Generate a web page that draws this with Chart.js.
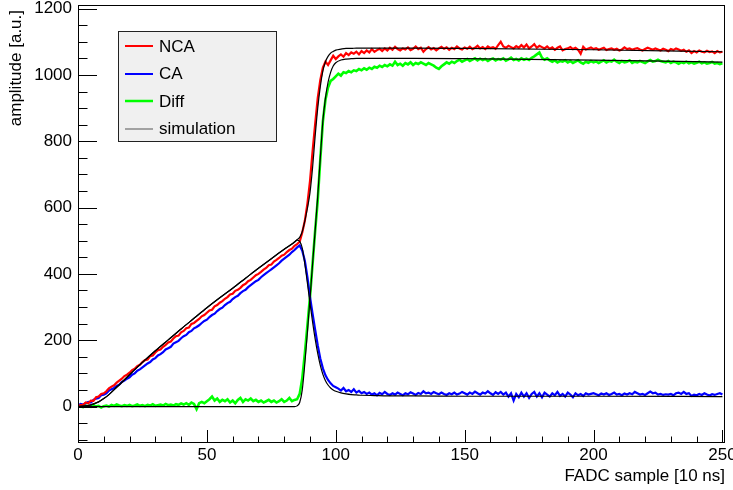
<!DOCTYPE html>
<html>
<head>
<meta charset="utf-8">
<script src="https://cdn.jsdelivr.net/npm/chart.js@4.4.1/dist/chart.umd.min.js"></script>
<style>
  html, body { margin: 0; padding: 0; background: #fff; }
  canvas { display: block; }
</style>
</head>
<body>
<canvas id="pulseChart" width="733" height="490"></canvas>
<script>
// Pulse shapes, one value per FADC sample (0..250)
const ncaValues = [
  2, 4, 5, 12, 10, 18, 17, 28, 30, 38, 40, 46, 55, 60, 64, 72, 78, 84, 92, 96,
  102, 110, 114, 122, 126, 134, 140, 142, 152, 154, 163, 170, 172, 180, 186, 193, 196, 205, 212, 214,
  224, 228, 236, 238, 249, 252, 258, 264, 272, 276, 283, 290, 292, 302, 306, 313, 318, 325, 330, 338,
  340, 349, 352, 358, 366, 370, 378, 382, 389, 396, 400, 406, 413, 418, 426, 428, 437, 442, 448, 455,
  458, 466, 472, 476, 485, 490, 497, 525, 560, 612, 680, 770, 852, 930, 985, 1022, 1040, 1030, 1044, 1058,
  1048, 1056, 1062, 1055, 1066, 1060, 1068, 1064, 1070, 1062, 1072, 1066, 1074, 1068, 1078, 1070, 1075, 1079, 1072, 1080,
  1074, 1082, 1076, 1085, 1078, 1074, 1080, 1077, 1083, 1075, 1079, 1086, 1078, 1082, 1070, 1078, 1084, 1077, 1081, 1074,
  1080, 1085, 1079, 1083, 1076, 1082, 1078, 1086, 1080, 1077, 1083, 1079, 1085, 1078, 1082, 1088, 1080, 1084, 1078, 1086,
  1081, 1084, 1079, 1090, 1100, 1086, 1082, 1088, 1084, 1080, 1087, 1082, 1090, 1083, 1092, 1080, 1086, 1093, 1082, 1088,
  1084, 1080, 1086, 1079, 1083, 1076, 1082, 1086, 1074, 1078, 1080, 1084, 1078, 1082, 1076, 1064, 1085, 1077, 1080, 1083,
  1078, 1081, 1076, 1079, 1082, 1075, 1078, 1080, 1076, 1079, 1074, 1077, 1083, 1078, 1080, 1076, 1079, 1081, 1077, 1074,
  1078, 1082, 1079, 1076, 1080, 1077, 1074, 1079, 1076, 1072, 1078, 1075, 1080, 1077, 1073, 1076, 1070, 1074, 1066, 1072,
  1068, 1074, 1070, 1068, 1073, 1069, 1071, 1066, 1072, 1068, 1070
];

const caValues = [
  3, 8, 6, 10, 14, 12, 20, 24, 26, 34, 36, 40, 48, 52, 56, 62, 66, 74, 78, 84,
  88, 96, 100, 108, 112, 118, 124, 130, 134, 142, 146, 154, 158, 164, 172, 176, 180, 190, 194, 198,
  206, 212, 216, 224, 228, 236, 240, 245, 252, 258, 262, 270, 276, 280, 288, 294, 298, 306, 312, 316,
  324, 330, 334, 342, 348, 352, 360, 366, 372, 378, 382, 390, 396, 402, 408, 414, 420, 426, 432, 440,
  446, 452, 458, 466, 472, 480, 486, 470, 440, 390, 331, 280, 232, 185, 145, 115, 94, 80, 70, 62,
  58, 54, 48, 56, 46, 50, 44, 52, 42, 47, 40, 44, 38, 42, 36, 40, 34, 41, 37, 44,
  38, 35, 40, 36, 42, 38, 34, 40, 37, 43, 39, 35, 41, 38, 46, 40, 42, 38, 44, 40,
  37, 42, 38, 35, 40, 37, 42, 36, 39, 44, 40, 36, 42, 38, 45, 40, 36, 42, 39, 46,
  40, 35, 43, 38, 44, 36, 42, 30, 40, 18, 38, 28, 42, 30, 40, 26, 38, 44, 30, 40,
  28, 42, 36, 30, 40, 34, 44, 32, 38, 30, 42, 36, 28, 40, 34, 38, 32, 40, 36, 38,
  40, 37, 34, 39, 36, 40, 35, 38, 42, 36, 38, 34, 39, 36, 40, 37, 44, 40, 36, 38,
  35, 40, 45, 40, 42, 36, 38, 35, 37, 36, 38, 34, 40, 42, 38, 44, 38, 40, 32, 36,
  34, 38, 35, 40, 36, 33, 37, 35, 38, 40, 36
];

const diffValues = [
  2, 0, -2, 3, 1, -1, 4, 0, 2, -3, 1, 3, 0, 5, 2, 6, 3, 1, 4, 2,
  5, 1, 3, 6, 2, 4, 1, 5, 3, 7, 2, 4, 6, 3, 8, 4, 6, 3, 7, 5,
  9, 6, 10, 5, 12, 8, -8, 10, 14, 10, 16, 22, 30, 18, 24, 14, 20, 16, 22, 12,
  18, 10, 20, 26, 14, 22, 18, 24, 16, 20, 14, 18, 12, 16, 20, 14, 18, 12, 16, 22,
  14, 18, 26, 16, 20, 22, 38, 85, 160, 245, 331, 430, 530, 622, 745, 860, 925, 962, 982, 988,
  996, 1004, 998, 1008, 1006, 1012, 1008, 1014, 1012, 1018, 1014, 1020, 1016, 1022, 1018, 1025, 1022, 1028, 1024, 1030,
  1026, 1032, 1028, 1040, 1030, 1034, 1028, 1036, 1032, 1038, 1030, 1036, 1033, 1038, 1034, 1030, 1036, 1032, 1028, 1022,
  1018, 1026, 1032, 1038, 1034, 1040, 1036, 1042, 1046, 1040, 1044, 1048, 1042, 1046, 1050, 1044, 1049, 1045, 1048, 1042,
  1047, 1050, 1044, 1048, 1046, 1050, 1043, 1047, 1052, 1045, 1048, 1044, 1050, 1046, 1049, 1045, 1052, 1056, 1062, 1068,
  1052, 1046, 1050, 1044, 1040, 1044, 1038, 1042, 1040, 1044, 1038, 1042, 1036, 1040, 1044, 1038, 1034, 1040, 1037, 1042,
  1038, 1041, 1036, 1040, 1044, 1038, 1042, 1040, 1046, 1040, 1036, 1042, 1038, 1040, 1044, 1036, 1040, 1038, 1042, 1039,
  1036, 1041, 1045, 1040, 1042, 1046, 1042, 1040, 1038, 1042, 1036, 1040, 1038, 1034, 1038, 1036, 1040, 1035, 1038, 1034,
  1037, 1040, 1035, 1038, 1034, 1036, 1039, 1034, 1036, 1033, 1035
];

// Simulated shapes (smooth), sampled where they bend
const simSamples = [0, 3, 5, 8, 10, 12, 15, 20, 25, 30, 35, 40, 45, 50, 55, 60, 65, 70, 75, 80,
  83, 84, 85, 86, 87, 88, 89, 90, 91, 92, 93, 94, 95, 96, 97, 98, 99, 100, 102, 104,
  106, 108, 110, 115, 120, 130, 150, 200, 250];
const simNca = [0, 2, 5, 14, 24, 36, 58, 96, 133, 168, 201, 234, 266, 298, 328, 357, 387, 417, 446, 474,
  490, 496, 503, 510, 528, 560, 598, 645, 720, 815, 900, 965, 1012, 1040, 1056, 1066, 1071, 1075, 1078, 1080,
  1080, 1081, 1081, 1081, 1081, 1081, 1080, 1076, 1070];
const simCa = [0, 2, 5, 14, 24, 36, 58, 96, 133, 168, 201, 234, 266, 298, 328, 357, 387, 417, 446, 474,
  490, 496, 502, 498, 478, 430, 372, 312, 255, 204, 160, 124, 97, 78, 65, 56, 50, 46, 41, 38,
  36, 35, 34, 33, 32, 32, 31, 31, 30];
const simDiff = [0, 0, 0, 0, 0, 0, 0, 0, 0, 0, 0, 0, 0, 0, 0, 0, 0, 0, 0, 0,
  0, 0, 2, 12, 50, 130, 225, 325, 430, 530, 635, 750, 862, 930, 978, 1008, 1027, 1037, 1045, 1048,
  1049, 1050, 1050, 1050, 1050, 1050, 1049, 1045, 1039];

const xTicks = [0, 50, 100, 150, 200, 250];
const yTicks = [0, 200, 400, 600, 800, 1000, 1200];

const FONT = "'Liberation Sans', Arial, Helvetica, sans-serif";

const toPoints = (vals) => vals.map((y, i) => ({ x: i, y: y }));
const toSimPoints = (vals) => vals.map((y, i) => ({ x: simSamples[i], y: y }));

// ROOT style frame, ticks inside, axis titles and legend box
const rootStyle = {
  id: 'rootStyle',
  afterDraw(chart) {
    const ctx = chart.ctx;
    const a = chart.chartArea;
    const xs = chart.scales.x, ys = chart.scales.y;
    const w = a.right - a.left, h = a.bottom - a.top;
    ctx.save();
    ctx.strokeStyle = '#000';
    ctx.lineWidth = 1;
    ctx.strokeRect(a.left + 0.5, a.top + 0.5, w - 1, h - 1);

    ctx.beginPath();
    for (let v = -100; v <= 1200; v += 50) {
      const py = Math.round(ys.getPixelForValue(v)) + 0.5;
      if (py < a.top || py > a.bottom) continue;
      const len = (v % 200 === 0) ? 19 : 9.5;
      ctx.moveTo(a.left, py);
      ctx.lineTo(a.left + len, py);
    }
    for (let v = 0; v <= 250; v += 10) {
      const px = Math.round(xs.getPixelForValue(v)) + 0.5;
      const len = (v % 50 === 0) ? 13 : 6.5;
      ctx.moveTo(px, a.bottom);
      ctx.lineTo(px, a.bottom - len);
    }
    ctx.stroke();

    // axis titles
    ctx.fillStyle = '#000';
    ctx.font = '17px ' + FONT;
    ctx.textAlign = 'right';
    ctx.textBaseline = 'alphabetic';
    ctx.fillText('FADC sample [10 ns]', a.right, 481);
    ctx.save();
    ctx.translate(21, a.top + 5);
    ctx.rotate(-Math.PI / 2);
    ctx.fillText('amplitude [a.u.]', 0, 0);
    ctx.restore();

    // legend
    const box = { x: 118.5, y: 31.5, w: 158, h: 110 };
    ctx.fillStyle = '#f0f0f0';
    ctx.fillRect(box.x, box.y, box.w, box.h);
    ctx.strokeStyle = '#222';
    ctx.strokeRect(box.x, box.y, box.w, box.h);
    const entries = [
      { label: 'NCA', color: '#ff0000', width: 2 },
      { label: 'CA', color: '#0000ff', width: 2 },
      { label: 'Diff', color: '#00ff00', width: 2.5 },
      { label: 'simulation', color: '#555', width: 1 }
    ];
    ctx.font = '17px ' + FONT;
    ctx.textAlign = 'left';
    ctx.textBaseline = 'middle';
    entries.forEach((e, i) => {
      const cy = 46 + i * 27.5;
      ctx.strokeStyle = e.color;
      ctx.lineWidth = e.width;
      ctx.beginPath();
      ctx.moveTo(125, Math.round(cy));
      ctx.lineTo(153, Math.round(cy));
      ctx.stroke();
      ctx.fillStyle = '#000';
      ctx.fillText(e.label, 159, cy + 1);
    });
    ctx.restore();
  }
};

const dataLine = (label, vals, color, width) => ({
  label: label,
  data: toPoints(vals),
  borderColor: color,
  backgroundColor: color,
  borderWidth: width,
  pointRadius: 0,
  tension: 0,
  order: 1
});
const simLine = (vals) => ({
  label: 'simulation',
  data: toSimPoints(vals),
  borderColor: '#000',
  borderWidth: 1.2,
  pointRadius: 0,
  cubicInterpolationMode: 'monotone',
  order: 0
});

new Chart(document.getElementById('pulseChart'), {
  type: 'line',
  data: {
    datasets: [
      dataLine('NCA', ncaValues, '#ff0000', 2.2),
      dataLine('CA', caValues, '#0000ff', 2.2),
      dataLine('Diff', diffValues, '#00ff00', 2.6),
      simLine(simNca),
      simLine(simCa),
      simLine(simDiff)
    ]
  },
  options: {
    responsive: false,
    animation: false,
    events: [],
    layout: { padding: { top: 5, right: 8, left: 0, bottom: 0 } },
    plugins: { legend: { display: false }, tooltip: { enabled: false } },
    scales: {
      x: {
        type: 'linear',
        min: 0,
        max: 251,
        grid: { display: false, drawTicks: false },
        border: { display: false },
        afterBuildTicks: (scale) => { scale.ticks = xTicks.map(v => ({ value: v })); },
        afterFit: (scale) => { scale.height = 47; scale.paddingLeft = 0; scale.paddingRight = 0; },
        ticks: { color: '#000', font: { family: FONT, size: 17 }, padding: 2, maxRotation: 0, autoSkip: false,
          callback: (v) => String(v) }
      },
      y: {
        type: 'linear',
        min: -110,
        max: 1211,
        grid: { display: false, drawTicks: false },
        border: { display: false },
        afterBuildTicks: (scale) => { scale.ticks = yTicks.map(v => ({ value: v })); },
        afterFit: (scale) => { scale.width = 78; scale.paddingTop = 0; scale.paddingBottom = 0; },
        ticks: { color: '#000', font: { family: FONT, size: 17 }, padding: 6, autoSkip: false,
          callback: (v) => String(v) }
      }
    }
  },
  plugins: [rootStyle]
});
</script>
</body>
</html>
